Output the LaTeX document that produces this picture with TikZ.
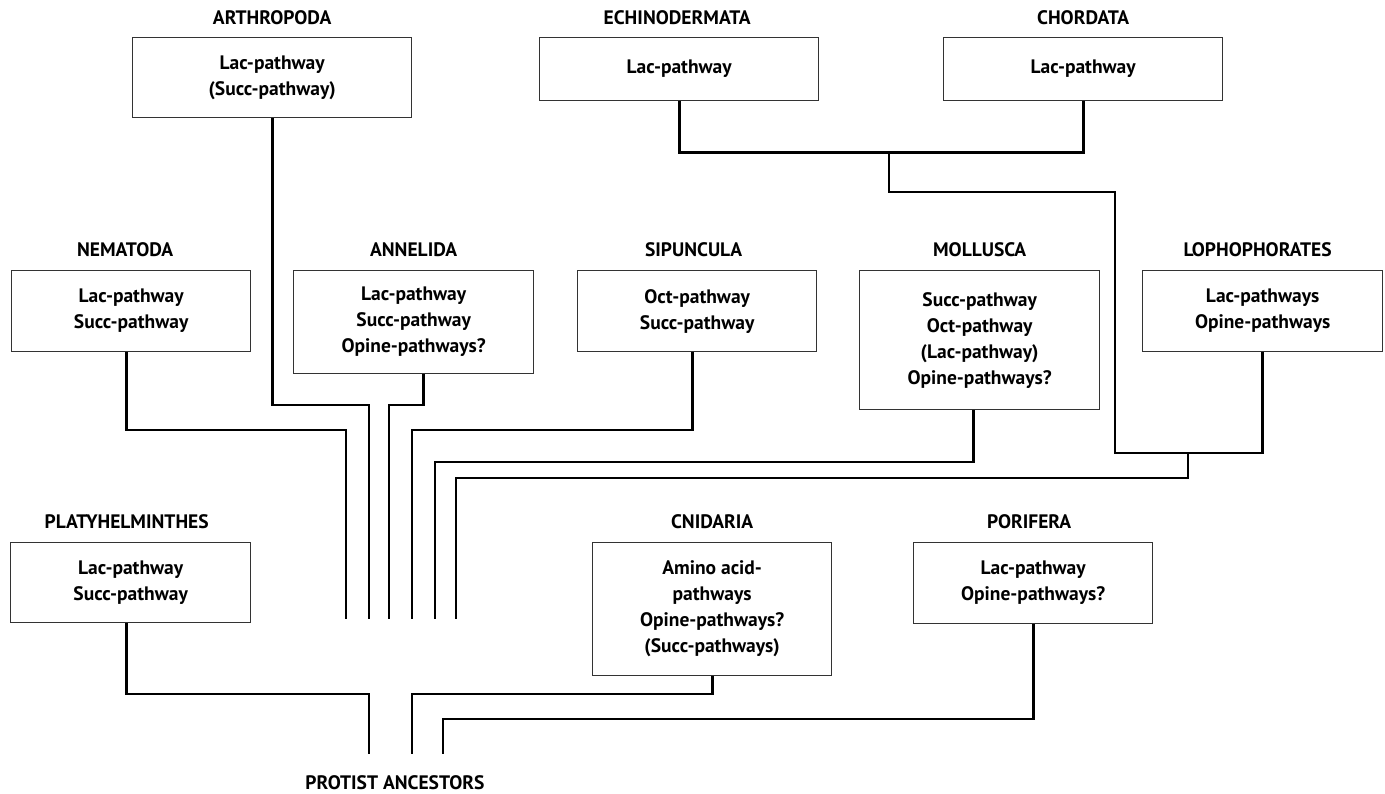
\documentclass[tikz,border=0pt]{standalone}
\usepackage{fontspec}
\setmainfont{PT Sans}
\begin{document}
\begin{tikzpicture}[x=1pt,y=-1pt,
  box/.style={draw=black!80, line width=1.3pt, rectangle, inner sep=0pt, text=black,
    anchor=north west, align=center, font=\fontsize{19.5}{26}\selectfont\bfseries},
  lbl/.style={font=\fontsize{19.5}{26}\selectfont\bfseries, text=black, inner sep=0pt},
  conn/.style={line width=2.7pt, line cap=butt, line join=miter}]
\useasboundingbox (0,0) rectangle (1385,794);

% ---- phylum boxes ----
\node[box, minimum width=279pt, minimum height=80pt]  (arth)  at (132,37)  {Lac-pathway\\(Succ-pathway)};
\node[box, minimum width=279pt, minimum height=63pt]  (echi)  at (539,37)  {Lac-pathway};
\node[box, minimum width=279pt, minimum height=63pt]  (chor)  at (943,37)  {Lac-pathway};
\node[box, minimum width=239pt, minimum height=81pt]  (nem)   at (11,270)  {Lac-pathway\\Succ-pathway};
\node[box, minimum width=240pt, minimum height=103pt] (ann)   at (293,270) {Lac-pathway\\Succ-pathway\\Opine-pathways?};
\node[box, minimum width=239pt, minimum height=81pt]  (sip)   at (577,270) {Oct-pathway\\Succ-pathway};
\node[box, minimum width=240pt, minimum height=139pt] (mol)   at (859,270) {Succ-pathway\\Oct-pathway\\(Lac-pathway)\\Opine-pathways?};
\node[box, minimum width=240pt, minimum height=81pt]  (loph)  at (1142,270) {Lac-pathways\\Opine-pathways};
\node[box, minimum width=240pt, minimum height=80pt]  (platy) at (10,542)  {Lac-pathway\\Succ-pathway};
\node[box, minimum width=239pt, minimum height=133pt] (cnid)  at (592,542) {Amino acid-\\pathways\\Opine-pathways?\\(Succ-pathways)};
\node[box, minimum width=239pt, minimum height=81pt]  (pori)  at (913,542) {Lac-pathway\\Opine-pathways?};

% ---- phylum names ----
\node[lbl] (arthL)  at ([yshift=19.5pt]arth.north)  {ARTHROPODA};
\node[lbl] (echiL)  at ([xshift=-2pt,yshift=19.5pt]echi.north) {ECHINODERMATA};
\node[lbl] (chorL)  at ([yshift=19.5pt]chor.north)  {CHORDATA};
\node[lbl] (nemL)   at ([xshift=-6pt,yshift=20pt]nem.north)   {NEMATODA};
\node[lbl] (annL)   at ([yshift=20pt]ann.north)   {ANNELIDA};
\node[lbl] (sipL)   at ([xshift=-3.5pt,yshift=20pt]sip.north) {SIPUNCULA};
\node[lbl] (molL)   at ([yshift=20pt]mol.north)   {MOLLUSCA};
\node[lbl] (lophL)  at ([xshift=-5pt,yshift=20pt]loph.north) {LOPHOPHORATES};
\node[lbl] (platyL) at ([xshift=-4pt,yshift=20pt]platy.north) {PLATYHELMINTHES};
\node[lbl] (cnidL)  at ([yshift=20pt]cnid.north)  {CNIDARIA};
\node[lbl] (poriL)  at ([xshift=-4pt,yshift=20pt]pori.north) {PORIFERA};
\node[lbl] (root)   at (395,783) {PROTIST ANCESTORS};

% ---- loose ends of the upper bundle ----
\coordinate (e0) at (346,619);
\coordinate (e1) at (369,619);
\coordinate (e2) at (389,619);
\coordinate (e3) at (412,619);
\coordinate (e4) at (435,619);
\coordinate (e5) at (456,619);
% ---- loose ends of the lower bundle ----
\coordinate (p1) at (369,754);
\coordinate (p2) at (412,754);
\coordinate (p3) at (443,754);
% ---- branch points ----
\coordinate (ecJ) at (889,151);
\coordinate (dJ)  at (1188,453);

% ---- deuterostome clade ----
\draw[conn] (echi.south) -- ++(0,51) -| (chor.south);
\draw[conn] (ecJ) -- (889,192) -- (1115,192) -- (1115,453) -| (loph.south);
\draw[conn] (dJ) |- (456,478) -- (e5);

% ---- upper bundle ----
\draw[conn] ([xshift=-4.5pt]nem.south) |- (346,430) -- (e0);
\draw[conn] (arth.south) |- (369,405) -- (e1);
\draw[conn] ([xshift=10pt]ann.south) |- (389,405) -- (e2);
\draw[conn] ([xshift=-4.5pt]sip.south) |- (412,430) -- (e3);
\draw[conn] ([xshift=-6pt]mol.south) |- (435,462) -- (e4);

% ---- lower bundle ----
\draw[conn] ([xshift=-4pt]platy.south) |- (369,694) -- (p1);
\draw[conn] (cnid.south) |- (412,694) -- (p2);
\draw[conn] (pori.south) |- (443,719) -- (p3);
\end{tikzpicture}
\end{document}
